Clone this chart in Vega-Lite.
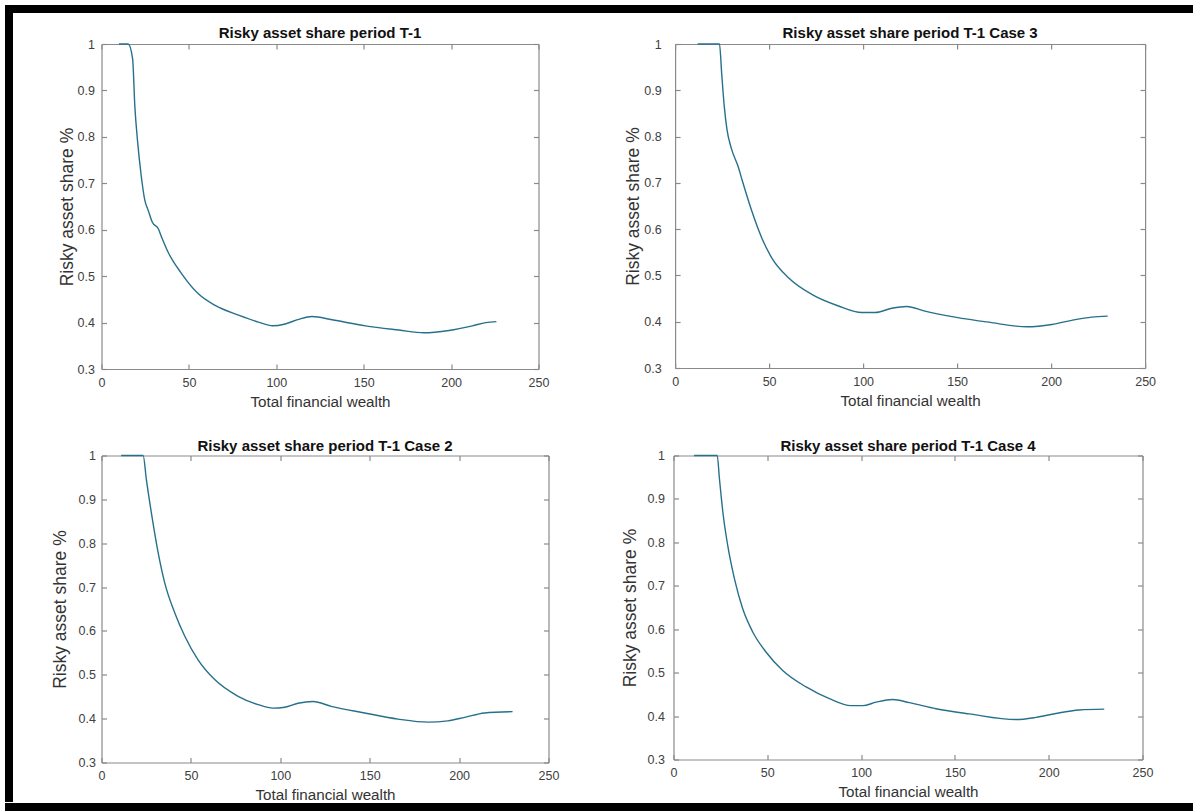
{
  "$schema": "https://vega.github.io/schema/vega-lite/v6.json",
  "padding": {"left": 5, "top": 5, "right": 0, "bottom": 0},
  "background": "white",
  "datasets": {
    "p1": [
      {"wealth": 10, "share": 1}, {"wealth": 15.3, "share": 1}, {"wealth": 17.8, "share": 0.968}, {"wealth": 19.1, "share": 0.864},
      {"wealth": 20.6, "share": 0.792}, {"wealth": 22.6, "share": 0.72}, {"wealth": 24.8, "share": 0.663}, {"wealth": 26.8, "share": 0.641},
      {"wealth": 29.1, "share": 0.616}, {"wealth": 32.5, "share": 0.602}, {"wealth": 34.4, "share": 0.584}, {"wealth": 38.2, "share": 0.551},
      {"wealth": 45.9, "share": 0.505}, {"wealth": 55.4, "share": 0.462}, {"wealth": 65, "share": 0.437}, {"wealth": 78.4, "share": 0.416},
      {"wealth": 89.8, "share": 0.401}, {"wealth": 97.9, "share": 0.393}, {"wealth": 105.1, "share": 0.397}, {"wealth": 112.8, "share": 0.407},
      {"wealth": 120.4, "share": 0.413}, {"wealth": 131.9, "share": 0.406}, {"wealth": 151, "share": 0.393}, {"wealth": 170.1, "share": 0.384},
      {"wealth": 184.4, "share": 0.378}, {"wealth": 198.8, "share": 0.383}, {"wealth": 212.2, "share": 0.393}, {"wealth": 219.8, "share": 0.4},
      {"wealth": 225.9, "share": 0.402}
    ],
    "p2": [
      {"wealth": 12, "share": 1}, {"wealth": 23.6, "share": 1}, {"wealth": 24.8, "share": 0.935}, {"wealth": 26.2, "share": 0.863},
      {"wealth": 27.6, "share": 0.815}, {"wealth": 29.8, "share": 0.776}, {"wealth": 33.7, "share": 0.733}, {"wealth": 35.8, "share": 0.704},
      {"wealth": 40.8, "share": 0.639}, {"wealth": 46.1, "share": 0.581}, {"wealth": 51.4, "share": 0.538}, {"wealth": 60.3, "share": 0.495},
      {"wealth": 72.7, "share": 0.459}, {"wealth": 86.9, "share": 0.434}, {"wealth": 99.3, "share": 0.42}, {"wealth": 106.4, "share": 0.42},
      {"wealth": 115.2, "share": 0.429}, {"wealth": 123.2, "share": 0.433}, {"wealth": 132.9, "share": 0.423}, {"wealth": 148.9, "share": 0.41},
      {"wealth": 166.7, "share": 0.399}, {"wealth": 187.1, "share": 0.389}, {"wealth": 200.4, "share": 0.394}, {"wealth": 211, "share": 0.403},
      {"wealth": 221.6, "share": 0.41}, {"wealth": 230.1, "share": 0.412}
    ],
    "p3": [
      {"wealth": 11, "share": 1}, {"wealth": 23.3, "share": 1}, {"wealth": 25.1, "share": 0.945}, {"wealth": 27.9, "share": 0.869},
      {"wealth": 31.7, "share": 0.778}, {"wealth": 35.4, "share": 0.709}, {"wealth": 41, "share": 0.641}, {"wealth": 46.6, "share": 0.588},
      {"wealth": 54, "share": 0.534}, {"wealth": 63.3, "share": 0.489}, {"wealth": 76.4, "share": 0.451}, {"wealth": 87.6, "share": 0.432},
      {"wealth": 95.9, "share": 0.424}, {"wealth": 102.5, "share": 0.426}, {"wealth": 109.9, "share": 0.435}, {"wealth": 118.3, "share": 0.439},
      {"wealth": 128.5, "share": 0.428}, {"wealth": 147.2, "share": 0.413}, {"wealth": 165.8, "share": 0.399}, {"wealth": 182.6, "share": 0.392},
      {"wealth": 193.7, "share": 0.395}, {"wealth": 203.1, "share": 0.403}, {"wealth": 214.2, "share": 0.413}, {"wealth": 229.9, "share": 0.416}
    ],
    "p4": [
      {"wealth": 11, "share": 1}, {"wealth": 23.3, "share": 1}, {"wealth": 24.5, "share": 0.946}, {"wealth": 26.3, "share": 0.87},
      {"wealth": 28.9, "share": 0.793}, {"wealth": 32.5, "share": 0.716}, {"wealth": 36.9, "share": 0.647}, {"wealth": 42.3, "share": 0.593},
      {"wealth": 49.4, "share": 0.547}, {"wealth": 58.2, "share": 0.505}, {"wealth": 70.7, "share": 0.467}, {"wealth": 83.1, "share": 0.44},
      {"wealth": 94.6, "share": 0.424}, {"wealth": 100.9, "share": 0.424}, {"wealth": 108, "share": 0.432}, {"wealth": 116.8, "share": 0.438},
      {"wealth": 125.7, "share": 0.431}, {"wealth": 139.9, "share": 0.417}, {"wealth": 157.7, "share": 0.405}, {"wealth": 182.5, "share": 0.392},
      {"wealth": 193.2, "share": 0.397}, {"wealth": 203.8, "share": 0.406}, {"wealth": 216.3, "share": 0.414}, {"wealth": 229.6, "share": 0.416}
    ]
  },
  "columns": 1,
  "align": "none",
  "spacing": 0,
  "concat": [
    {"width": 1188, "height": 8, "data": {"values": []}, "mark": "rect", "view": {"fill": "black", "stroke": null}},
    {
      "columns": 2,
      "align": "none",
      "spacing": 37.5,
      "concat": [
        {"width": 8, "height": 789, "data": {"values": []}, "mark": "rect", "view": {"fill": "black", "stroke": null}},
        {
          "columns": 1,
          "align": "none",
          "spacing": 0,
          "concat": [
            {"width": 1, "height": 13, "data": {"values": []}, "mark": "rect", "view": {"fill": "white", "stroke": null}},
            {
              "columns": 1,
              "align": "none",
              "spacing": 28.5,
              "concat": [
                {
                  "columns": 2,
                  "align": "none",
                  "spacing": 74.6,
                  "concat": [
                    {
                      "width": 437, "height": 325,
                      "title": {"text": "Risky asset share period T-1", "offset": -3},
                      "data": {"name": "p1"},
                      "layer": [
                        {"mark": {"type": "line", "color": "#27708c", "strokeWidth": 1.4, "interpolate": "monotone"},
                         "encoding": {
                           "x": {"field": "wealth", "type": "quantitative", "scale": {"domain": [0, 250], "nice": false}, "axis": {"values": [0, 50, 100, 150, 200, 250], "title": "Total financial wealth", "labelPadding": 12, "titlePadding": 6}},
                           "y": {"field": "share", "type": "quantitative", "scale": {"domain": [0.3, 1], "nice": false, "zero": false}, "axis": {"values": [0.3, 0.4, 0.5, 0.6, 0.7, 0.8, 0.9, 1], "format": "~g", "title": "Risky asset share %", "labelPadding": 12, "titlePadding": 0.3}}
                         }},
                        {"mark": {"type": "line", "opacity": 0},
                         "encoding": {
                           "x": {"field": "wealth", "type": "quantitative", "scale": {"domain": [0, 250], "nice": false}, "axis": {"orient": "top", "values": [0, 50, 100, 150, 200, 250], "labels": false, "title": null}},
                           "y": {"field": "share", "type": "quantitative", "scale": {"domain": [0.3, 1], "nice": false, "zero": false}, "axis": {"orient": "right", "values": [0.3, 0.4, 0.5, 0.6, 0.7, 0.8, 0.9, 1], "labels": false, "title": null}}
                         }}
                      ],
                      "resolve": {"axis": {"x": "independent", "y": "independent"}}
                    },
                    {
                      "width": 470, "height": 324,
                      "title": {"text": "Risky asset share period T-1 Case 3", "offset": -3},
                      "data": {"name": "p2"},
                      "layer": [
                        {"mark": {"type": "line", "color": "#27708c", "strokeWidth": 1.4, "interpolate": "monotone"},
                         "encoding": {
                           "x": {"field": "wealth", "type": "quantitative", "scale": {"domain": [0, 250], "nice": false}, "axis": {"values": [0, 50, 100, 150, 200, 250], "title": "Total financial wealth", "labelPadding": 12, "titlePadding": 6}},
                           "y": {"field": "share", "type": "quantitative", "scale": {"domain": [0.3, 1], "nice": false, "zero": false}, "axis": {"values": [0.3, 0.4, 0.5, 0.6, 0.7, 0.8, 0.9, 1], "format": "~g", "title": "Risky asset share %", "labelPadding": 19, "titlePadding": 1.5}}
                         }},
                        {"mark": {"type": "line", "opacity": 0},
                         "encoding": {
                           "x": {"field": "wealth", "type": "quantitative", "scale": {"domain": [0, 250], "nice": false}, "axis": {"orient": "top", "values": [0, 50, 100, 150, 200, 250], "labels": false, "title": null}},
                           "y": {"field": "share", "type": "quantitative", "scale": {"domain": [0.3, 1], "nice": false, "zero": false}, "axis": {"orient": "right", "values": [0.3, 0.4, 0.5, 0.6, 0.7, 0.8, 0.9, 1], "labels": false, "title": null}}
                         }}
                      ],
                      "resolve": {"axis": {"x": "independent", "y": "independent"}}
                    }
                  ]
                },
                {
                  "columns": 2,
                  "align": "none",
                  "spacing": 62,
                  "concat": [
                    {
                      "width": 447, "height": 307,
                      "title": {"text": "Risky asset share period T-1 Case 2", "offset": -4},
                      "data": {"name": "p3"},
                      "layer": [
                        {"mark": {"type": "line", "color": "#27708c", "strokeWidth": 1.4, "interpolate": "monotone"},
                         "encoding": {
                           "x": {"field": "wealth", "type": "quantitative", "scale": {"domain": [0, 250], "nice": false}, "axis": {"values": [0, 50, 100, 150, 200, 250], "title": "Total financial wealth", "labelPadding": 12, "titlePadding": 5}},
                           "y": {"field": "share", "type": "quantitative", "scale": {"domain": [0.3, 1], "nice": false, "zero": false}, "axis": {"values": [0.3, 0.4, 0.5, 0.6, 0.7, 0.8, 0.9, 1], "format": "~g", "title": "Risky asset share %", "labelPadding": 11, "titlePadding": 9}}
                         }},
                        {"mark": {"type": "line", "opacity": 0},
                         "encoding": {
                           "x": {"field": "wealth", "type": "quantitative", "scale": {"domain": [0, 250], "nice": false}, "axis": {"orient": "top", "values": [0, 50, 100, 150, 200, 250], "labels": false, "title": null}},
                           "y": {"field": "share", "type": "quantitative", "scale": {"domain": [0.3, 1], "nice": false, "zero": false}, "axis": {"orient": "right", "values": [0.3, 0.4, 0.5, 0.6, 0.7, 0.8, 0.9, 1], "labels": false, "title": null}}
                         }}
                      ],
                      "resolve": {"axis": {"x": "independent", "y": "independent"}}
                    },
                    {
                      "width": 469, "height": 304,
                      "title": {"text": "Risky asset share period T-1 Case 4", "offset": -4.5},
                      "data": {"name": "p4"},
                      "layer": [
                        {"mark": {"type": "line", "color": "#27708c", "strokeWidth": 1.4, "interpolate": "monotone"},
                         "encoding": {
                           "x": {"field": "wealth", "type": "quantitative", "scale": {"domain": [0, 250], "nice": false}, "axis": {"values": [0, 50, 100, 150, 200, 250], "title": "Total financial wealth", "labelPadding": 12, "titlePadding": 5}},
                           "y": {"field": "share", "type": "quantitative", "scale": {"domain": [0.3, 1], "nice": false, "zero": false}, "axis": {"values": [0.3, 0.4, 0.5, 0.6, 0.7, 0.8, 0.9, 1], "format": "~g", "title": "Risky asset share %", "labelPadding": 14, "titlePadding": 7.6}}
                         }},
                        {"mark": {"type": "line", "opacity": 0},
                         "encoding": {
                           "x": {"field": "wealth", "type": "quantitative", "scale": {"domain": [0, 250], "nice": false}, "axis": {"orient": "top", "values": [0, 50, 100, 150, 200, 250], "labels": false, "title": null}},
                           "y": {"field": "share", "type": "quantitative", "scale": {"domain": [0.3, 1], "nice": false, "zero": false}, "axis": {"orient": "right", "values": [0.3, 0.4, 0.5, 0.6, 0.7, 0.8, 0.9, 1], "labels": false, "title": null}}
                         }}
                      ],
                      "resolve": {"axis": {"x": "independent", "y": "independent"}}
                    }
                  ]
                }
              ]
            }
          ]
        }
      ]
    },
    {"width": 1188, "height": 9, "data": {"values": []}, "mark": "rect", "view": {"fill": "black", "stroke": null}}
  ],
  "config": {
    "font": "Liberation Sans",
    "view": {"stroke": null},
    "axis": {
      "grid": false,
      "domainColor": "#8a8a8a",
      "domainWidth": 1.2,
      "tickColor": "#8a8a8a",
      "tickSize": -5,
      "tickWidth": 1.2,
      "labelColor": "#404040",
      "labelFontSize": 12.5,
      "labelFont": "Liberation Sans",
      "labelFlush": false,
      "labelOverlap": false,
      "titleFont": "Liberation Sans",
      "titleColor": "#333333",
      "titleFontWeight": "normal"
    },
    "axisX": {"titleFontSize": 15.2},
    "axisY": {"titleFontSize": 17.5},
    "title": {"fontSize": 15, "fontWeight": "bold", "color": "#111111", "anchor": "middle", "frame": "group", "font": "Liberation Sans"}
  }
}
